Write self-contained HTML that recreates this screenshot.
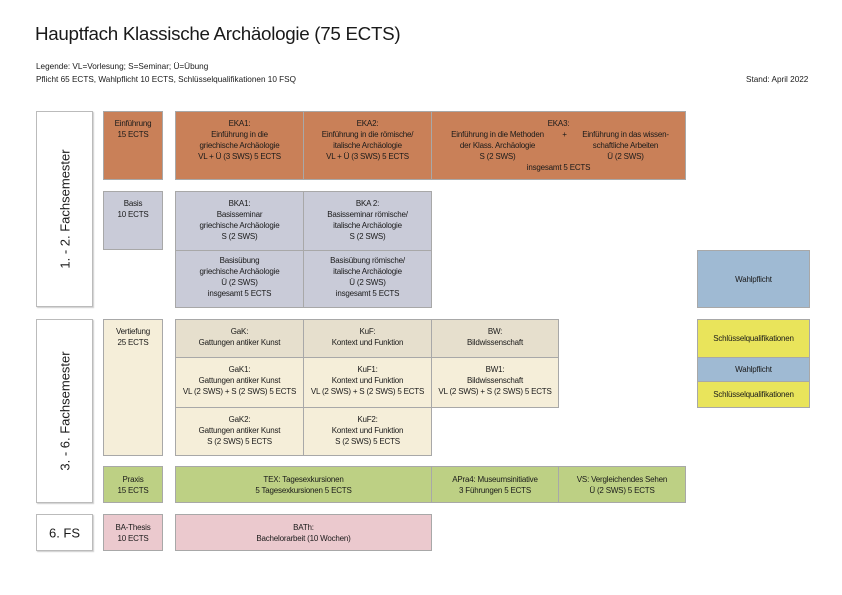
<!DOCTYPE html>
<html><head><meta charset="utf-8"><style>
body{margin:0;width:842px;height:595px;background:#fff;position:relative;overflow:hidden;font-family:"Liberation Sans",sans-serif;color:#1a1a1a}
.b{position:absolute;box-sizing:border-box;border:1px solid #a8a8a8;text-align:center;font-size:8px;line-height:11px;padding-top:6px;letter-spacing:-0.2px}
.c{display:flex;align-items:center;justify-content:center;padding-top:0}
.o{background:#c98058}.g{background:#c9cbd8}.h{background:#e6dfcd}.l{background:#f5eed9}.gr{background:#bdd084}.p{background:#ebc9ce}.bl{background:#9fbad3}.y{background:#e9e45b}
.s{position:absolute;box-sizing:border-box;border:1px solid #bbb;background:#fff;box-shadow:1px 1px 1px #ccc}
.v{position:absolute;left:50%;top:50%;transform:translate(-50%,-50%) rotate(-90deg);white-space:nowrap;font-size:13px}
.t{position:absolute;white-space:nowrap}
</style></head><body>
<div class="t" style="left:35px;top:23px;font-size:18.8px;letter-spacing:-0.3px">Hauptfach Klassische Archäologie (75 ECTS)</div>
<div class="t" style="left:36px;top:62px;font-size:8.2px">Legende: VL=Vorlesung; S=Seminar; Ü=Übung</div>
<div class="t" style="left:36px;top:75px;font-size:8.2px">Pflicht 65 ECTS, Wahlpflicht 10 ECTS, Schlüsselqualifikationen 10 FSQ</div>
<div class="t" style="left:746px;top:75px;font-size:8.2px">Stand: April 2022</div>

<div class="s" style="left:36px;top:111px;width:57px;height:196px"><div class="v">1. - 2. Fachsemester</div></div>
<div class="s" style="left:36px;top:319px;width:57px;height:184px"><div class="v">3. - 6. Fachsemester</div></div>
<div class="s" style="left:36px;top:514px;width:57px;height:37px"><div class="v" style="transform:translate(-50%,-50%)">6. FS</div></div>

<div class="b o" style="left:103px;top:111px;width:60px;height:69px">Einführung<br>15 ECTS</div>
<div class="b o" style="left:175px;top:111px;width:129px;height:69px">EKA1:<br>Einführung in die<br>griechische Archäologie<br>VL + Ü (3 SWS) 5 ECTS</div>
<div class="b o" style="left:303px;top:111px;width:129px;height:69px">EKA2:<br>Einführung in die römische/<br>italische Archäologie<br>VL + Ü (3 SWS) 5 ECTS</div>
<div class="b o" style="left:431px;top:111px;width:255px;height:69px">EKA3:<br><span style="display:inline-block;width:120px;white-space:nowrap">Einführung in die Methoden<br>der Klass. Archäologie<br>S (2 SWS)</span><span style="display:inline-block;width:14px;vertical-align:top">+</span><span style="display:inline-block;width:108px;vertical-align:top;white-space:nowrap">Einführung in das wissen-<br>schaftliche Arbeiten<br>Ü (2 SWS)</span><br>insgesamt 5 ECTS</div>

<div class="b g" style="left:103px;top:191px;width:60px;height:59px">Basis<br>10 ECTS</div>
<div class="b g" style="left:175px;top:191px;width:129px;height:60px">BKA1:<br>Basisseminar<br>griechische Archäologie<br>S (2 SWS)</div>
<div class="b g" style="left:303px;top:191px;width:129px;height:60px">BKA 2:<br>Basisseminar römische/<br>italische Archäologie<br>S (2 SWS)</div>
<div class="b g" style="left:175px;top:250px;width:129px;height:58px;padding-top:4px">Basisübung<br>griechische Archäologie<br>Ü (2 SWS)<br>insgesamt 5 ECTS</div>
<div class="b g" style="left:303px;top:250px;width:129px;height:58px;padding-top:4px">Basisübung römische/<br>italische Archäologie<br>Ü (2 SWS)<br>insgesamt 5 ECTS</div>
<div class="b bl c" style="left:697px;top:250px;width:113px;height:58px">Wahlpflicht</div>

<div class="b l" style="left:103px;top:319px;width:60px;height:137px">Vertiefung<br>25 ECTS</div>
<div class="b h" style="left:175px;top:319px;width:129px;height:39px">GaK:<br>Gattungen antiker Kunst</div>
<div class="b h" style="left:303px;top:319px;width:129px;height:39px">KuF:<br>Kontext und Funktion</div>
<div class="b h" style="left:431px;top:319px;width:128px;height:39px">BW:<br>Bildwissenschaft</div>
<div class="b l" style="left:175px;top:357px;width:129px;height:51px">GaK1:<br>Gattungen antiker Kunst<br>VL (2 SWS) + S (2 SWS) 5 ECTS</div>
<div class="b l" style="left:303px;top:357px;width:129px;height:51px">KuF1:<br>Kontext und Funktion<br>VL (2 SWS) + S (2 SWS) 5 ECTS</div>
<div class="b l" style="left:431px;top:357px;width:128px;height:51px">BW1:<br>Bildwissenschaft<br>VL (2 SWS) + S (2 SWS) 5 ECTS</div>
<div class="b l" style="left:175px;top:407px;width:129px;height:49px">GaK2:<br>Gattungen antiker Kunst<br>S (2 SWS) 5 ECTS</div>
<div class="b l" style="left:303px;top:407px;width:129px;height:49px">KuF2:<br>Kontext und Funktion<br>S (2 SWS) 5 ECTS</div>

<div class="b y c" style="left:697px;top:319px;width:113px;height:39px">Schlüsselqualifikationen</div>
<div class="b bl c" style="left:697px;top:357px;width:113px;height:25px">Wahlpflicht</div>
<div class="b y c" style="left:697px;top:381px;width:113px;height:27px">Schlüsselqualifikationen</div>

<div class="b gr" style="left:103px;top:466px;width:60px;height:37px;padding-top:7px">Praxis<br>15 ECTS</div>
<div class="b gr" style="left:175px;top:466px;width:257px;height:37px;padding-top:7px">TEX: Tagesexkursionen<br>5 Tagesexkursionen 5 ECTS</div>
<div class="b gr" style="left:431px;top:466px;width:128px;height:37px;padding-top:7px">APra4: Museumsinitiative<br>3 Führungen 5 ECTS</div>
<div class="b gr" style="left:558px;top:466px;width:128px;height:37px;padding-top:7px">VS: Vergleichendes Sehen<br>Ü (2 SWS) 5 ECTS</div>

<div class="b p" style="left:103px;top:514px;width:60px;height:37px;padding-top:7px">BA-Thesis<br>10 ECTS</div>
<div class="b p" style="left:175px;top:514px;width:257px;height:37px;padding-top:7px">BATh:<br>Bachelorarbeit (10 Wochen)</div>
</body></html>
